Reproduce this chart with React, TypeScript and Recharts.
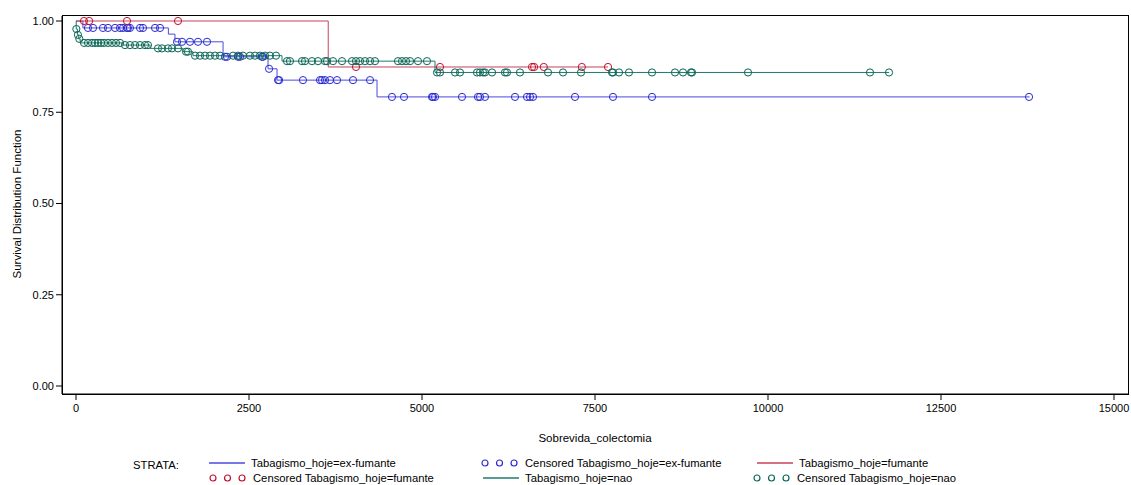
import React from "react";
import {
  ComposedChart,
  Line,
  Scatter,
  XAxis,
  YAxis,
} from "recharts";

const FONT = '"Liberation Sans", Arial, sans-serif';

const X_TICKS = [0, 2500, 5000, 7500, 10000, 12500, 15000];
const Y_TICKS = [0, 0.25, 0.5, 0.75, 1];

// step curves: time where the estimate changes, and the new value
const exFumanteTimes = [0, 100, 1335, 1430, 2125, 2775, 2905, 4350, 13780];
const exFumanteSurv = [1.0, 0.981, 0.964, 0.943, 0.902, 0.869, 0.838, 0.792, 0.792];

const fumanteTimes = [0, 3645, 7688];
const fumanteSurv = [1.0, 0.874, 0.874];

const naoTimes = [0, 3, 20, 40, 60, 680, 1070, 1546, 1690, 2977, 5188, 11750];
const naoSurv = [1.0, 0.978, 0.962, 0.951, 0.94, 0.934, 0.925, 0.916, 0.905, 0.89, 0.859, 0.859];

// censored observations (times)
const exFumanteCensored = [
  173, 246, 390, 462, 564, 636, 680, 737, 751, 780, 925, 968, 1142, 1214,
  1460, 1532, 1647, 1763, 1893,
  2153, 2182, 2341, 2370, 2688, 2702,
  2790,
  2920, 2935, 3280, 3526, 3555, 3598, 3670, 3772, 4003, 4249,
  4566, 4740, 5145, 5159, 5188, 5578, 5809, 5838, 5910, 6344, 6517, 6561, 6604,
  7211, 7760, 8324, 13772,
];

const fumanteCensored = [115, 190, 737, 1474, 4046, 5260, 6590, 6620, 6760, 7310, 7688];

const naoCensored = [
  5, 28, 48,
  116, 173, 231, 275, 318, 361, 405, 462, 520, 578, 636,
  708, 780, 853, 925, 997, 1040,
  1185, 1243, 1329, 1387, 1474,
  1590, 1618,
  1720, 1792, 1864, 1936, 2009, 2081, 2269, 2341, 2413, 2514, 2587, 2659, 2731, 2803, 2890,
  3049, 3092, 3266, 3309, 3410, 3497, 3598, 3627, 3714, 3844, 3988, 4046, 4104, 4176,
  4249, 4321, 4653, 4711, 4769, 4827, 4942, 5072,
  5217, 5260, 5477, 5549, 5795, 5838, 5882, 5910, 6012, 6199, 6228, 6416, 6821, 7038,
  7298, 7746, 7760, 7847, 7991, 8324, 8656, 8772, 8887, 8902, 9711, 11474, 11749,
];

const BLUE_LINE = "#4a4ae0";
const BLUE_MARK = "#2a2ad0";
const RED_LINE = "#c8405a";
const RED_MARK = "#c0102c";
const GREEN_LINE = "#1f7a6c";
const GREEN_MARK = "#0a6656";

function curve(times: number[], surv: number[]) {
  return times.map((t, i) => ({ t, s: surv[i] }));
}

function censored(times: number[], surv: number[], pts: number[]) {
  return pts.map((t) => {
    let s = surv[0];
    for (let i = 0; i < times.length; i++) if (times[i] <= t) s = surv[i];
    return { t, s };
  });
}

const ring = (color: string) => (props: any) =>
  <circle cx={props.cx} cy={props.cy} r={3.6} fill="none" stroke={color} strokeWidth={1} />;

function LegendLine({ color }: { color: string }) {
  return (
    <svg width={36} height={4} style={{ display: "block" }}>
      <line x1={0} y1={2} x2={36} y2={2} stroke={color} strokeWidth={1.6} />
    </svg>
  );
}

function LegendRings({ color }: { color: string }) {
  return (
    <svg width={38} height={10} style={{ display: "block" }}>
      {[4, 18.5, 33].map((x) => (
        <circle key={x} cx={x} cy={5} r={3} fill="none" stroke={color} strokeWidth={1.2} />
      ))}
    </svg>
  );
}

function Item({ left, top, mark, label }: { left: number; top: number; mark: React.ReactNode; label: string }) {
  return (
    <div style={{ position: "absolute", left, top, height: 14, lineHeight: "14px", whiteSpace: "nowrap", display: "flex", alignItems: "center", gap: 6 }}>
      {mark}
      <span>{label}</span>
    </div>
  );
}

export default function App() {
  return (
    <div style={{ position: "absolute", left: 0, top: 0, width: 1131, height: 485, background: "#fff", fontFamily: FONT }}>
      <ComposedChart width={1131} height={485} margin={{ top: 16, right: 3, bottom: 31, left: 12 }}>
        <XAxis
          type="number"
          dataKey="t"
          domain={[0, 15000]}
          ticks={X_TICKS}
          padding={{ left: 14, right: 14 }}
          height={60}
          axisLine={{ stroke: "#000" }}
          tickLine={{ stroke: "#000" }}
          tick={{ fill: "#000", fontSize: 11, fontFamily: FONT }}
          tickMargin={4}
          label={{ value: "Sobrevida_colectomia", position: "insideBottom", offset: 12, fill: "#000", fontSize: 11.5, fontFamily: FONT }}
        />
        <YAxis
          type="number"
          dataKey="s"
          domain={[0, 1]}
          ticks={Y_TICKS}
          padding={{ top: 5, bottom: 8 }}
          width={50}
          axisLine={{ stroke: "#000" }}
          tickLine={{ stroke: "#000" }}
          tick={{ fill: "#000", fontSize: 11, fontFamily: FONT }}
          tickFormatter={(v: number) => v.toFixed(2)}
        />
        <Line data={curve(exFumanteTimes, exFumanteSurv)} dataKey="s" type="stepAfter" stroke={BLUE_LINE} strokeWidth={1} dot={false} isAnimationActive={false} />
        <Line data={curve(fumanteTimes, fumanteSurv)} dataKey="s" type="stepAfter" stroke={RED_LINE} strokeWidth={1} dot={false} isAnimationActive={false} />
        <Line data={curve(naoTimes, naoSurv)} dataKey="s" type="stepAfter" stroke={GREEN_LINE} strokeWidth={1} dot={false} isAnimationActive={false} />
        <Scatter data={censored(exFumanteTimes, exFumanteSurv, exFumanteCensored)} dataKey="s" shape={ring(BLUE_MARK)} isAnimationActive={false} />
        <Scatter data={censored(fumanteTimes, fumanteSurv, fumanteCensored)} dataKey="s" shape={ring(RED_MARK)} isAnimationActive={false} />
        <Scatter data={censored(naoTimes, naoSurv, naoCensored)} dataKey="s" shape={ring(GREEN_MARK)} isAnimationActive={false} />
      </ComposedChart>

      {/* plot frame */}
      <div style={{ position: "absolute", left: 62, top: 15, width: 1067, height: 380, boxSizing: "border-box", border: "1px solid #000", pointerEvents: "none" }} />

      <div
        style={{
          position: "absolute",
          left: 17,
          top: 204,
          transform: "translate(-50%, -50%) rotate(-90deg)",
          fontSize: 11.5,
          whiteSpace: "nowrap",
        }}
      >
        Survival Distribution Function
      </div>

      <div style={{ position: "absolute", left: 0, top: 0, fontSize: 11.25, color: "#000" }}>
        <div style={{ position: "absolute", left: 133, top: 458, lineHeight: "14px" }}>STRATA:</div>
        <Item left={209} top={456} mark={<LegendLine color={BLUE_LINE} />} label="Tabagismo_hoje=ex-fumante" />
        <Item left={481} top={456} mark={<LegendRings color={BLUE_MARK} />} label="Censored Tabagismo_hoje=ex-fumante" />
        <Item left={757} top={456} mark={<LegendLine color={RED_LINE} />} label="Tabagismo_hoje=fumante" />
        <Item left={209} top={471} mark={<LegendRings color={RED_MARK} />} label="Censored Tabagismo_hoje=fumante" />
        <Item left={483} top={471} mark={<LegendLine color={GREEN_LINE} />} label="Tabagismo_hoje=nao" />
        <Item left={753} top={471} mark={<LegendRings color={GREEN_MARK} />} label="Censored Tabagismo_hoje=nao" />
      </div>
    </div>
  );
}
